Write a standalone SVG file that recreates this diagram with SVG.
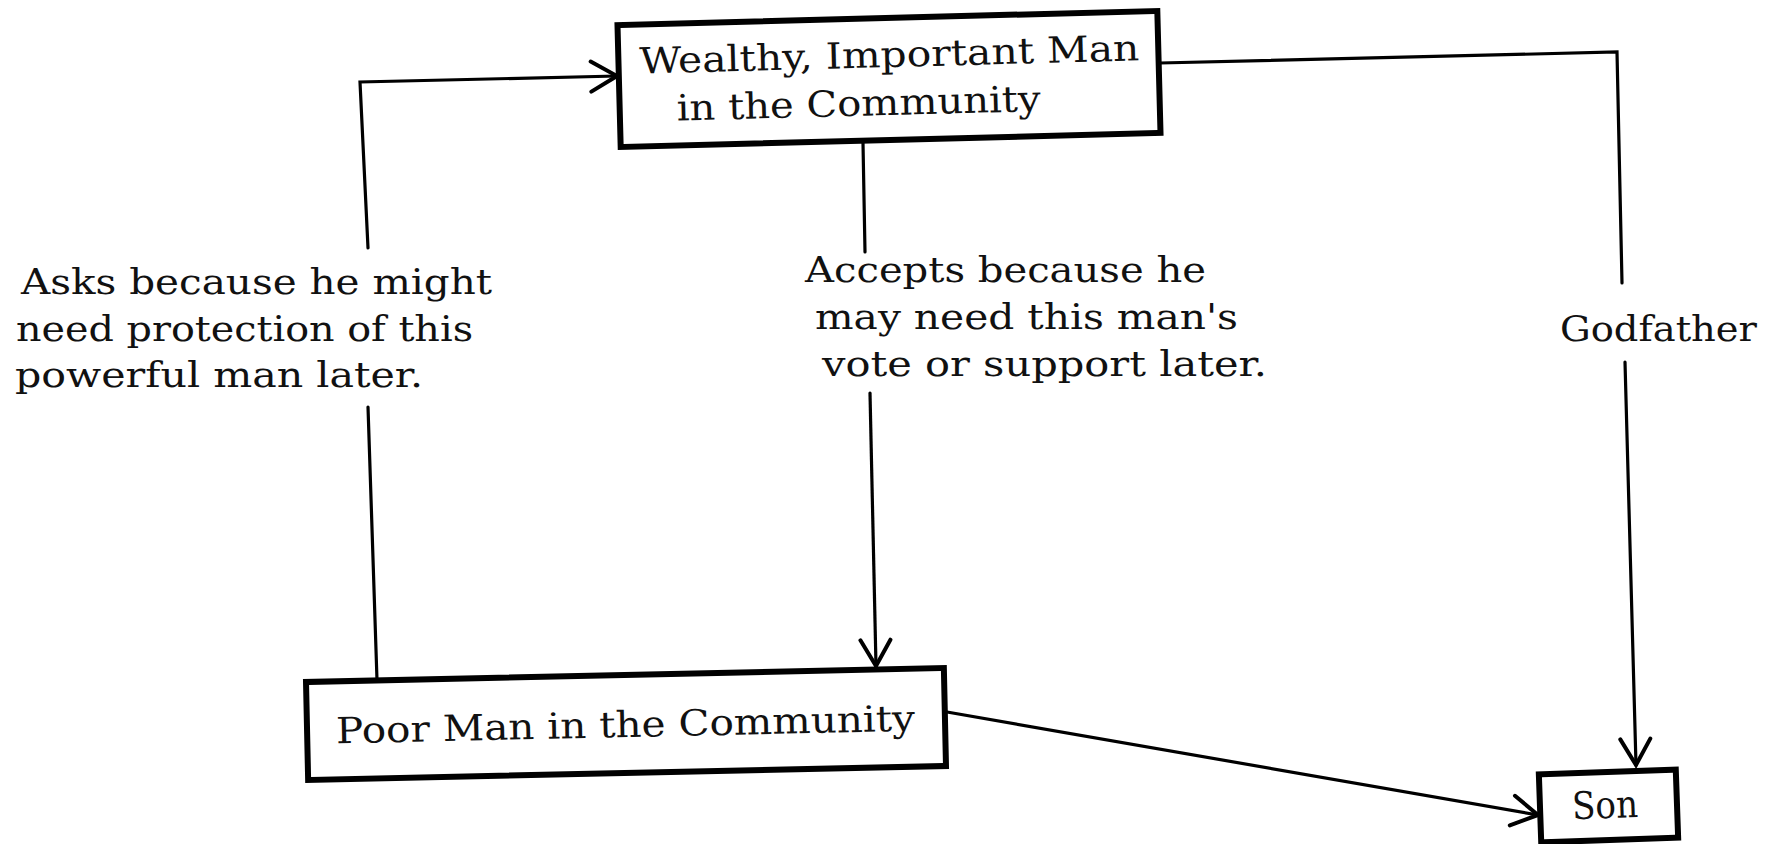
<svg xmlns="http://www.w3.org/2000/svg" width="1782" height="844" viewBox="0 0 1782 844">
<defs>
<style>
.box{fill:#fff;stroke:#000;stroke-width:6;stroke-linejoin:miter}
.t{font-family:"DejaVu Serif","Liberation Serif",serif;font-size:36px;fill:#111}
.s{font-size:38px}
.c{fill:none;stroke:#000;stroke-width:3.2;stroke-linecap:round;stroke-linejoin:miter}
</style>
<marker id="arr" markerUnits="userSpaceOnUse" markerWidth="34" markerHeight="36" viewBox="0 0 34 36" refX="29" refY="18" orient="auto">
<path d="M3,3 L29,18 L3,33" fill="none" stroke="#000" stroke-width="4" stroke-linecap="round" stroke-linejoin="miter"/>
</marker>
</defs>
<rect width="1782" height="844" fill="#fff"/>

<g id="connectors">
<polyline class="c" points="368,248 360,82 617,76" marker-end="url(#arr)"/>
<line class="c" x1="377" y1="680" x2="368" y2="407"/>
<line class="c" x1="863" y1="143" x2="865" y2="252"/>
<line class="c" x1="870" y1="393" x2="876" y2="666" marker-end="url(#arr)"/>
<polyline class="c" points="1160,63 1617,52 1622,283"/>
<line class="c" x1="1625" y1="362" x2="1636" y2="765" marker-end="url(#arr)"/>
<line class="c" x1="947" y1="712" x2="1538" y2="815" marker-end="url(#arr)"/>
</g>

<g id="wealthy" transform="rotate(-1.5 889 79)">
<rect class="box" x="619" y="18" width="540" height="122"/>
<text class="t" x="640" y="67" textLength="500" lengthAdjust="spacingAndGlyphs">Wealthy, Important Man</text>
<text class="t" x="676" y="115" textLength="364" lengthAdjust="spacingAndGlyphs">in the Community</text>
</g>

<g id="poor" transform="rotate(-1.25 626 724)">
<rect class="box" x="307" y="675" width="638" height="98"/>
<text class="t" x="336" y="737" textLength="579" lengthAdjust="spacingAndGlyphs">Poor Man in the Community</text>
</g>

<g id="son" transform="rotate(-2 1609 806)">
<rect class="box" x="1540" y="772" width="137" height="68"/>
<text class="t s" x="1572" y="818" textLength="66" lengthAdjust="spacingAndGlyphs">Son</text>
</g>

<g id="label-asks">
<text class="t" x="21" y="294" textLength="471" lengthAdjust="spacingAndGlyphs">Asks because he might</text>
<text class="t" x="16" y="341" textLength="457" lengthAdjust="spacingAndGlyphs">need protection of this</text>
<text class="t" x="15" y="387" textLength="408" lengthAdjust="spacingAndGlyphs">powerful man later.</text>
</g>

<g id="label-accepts">
<text class="t" x="805" y="282" textLength="401" lengthAdjust="spacingAndGlyphs">Accepts because he</text>
<text class="t" x="815" y="329" textLength="423" lengthAdjust="spacingAndGlyphs">may need this man's</text>
<text class="t" x="822" y="376" textLength="445" lengthAdjust="spacingAndGlyphs">vote or support later.</text>
</g>

<g id="label-godfather">
<text class="t" x="1560" y="341" textLength="197" lengthAdjust="spacingAndGlyphs">Godfather</text>
</g>
</svg>
